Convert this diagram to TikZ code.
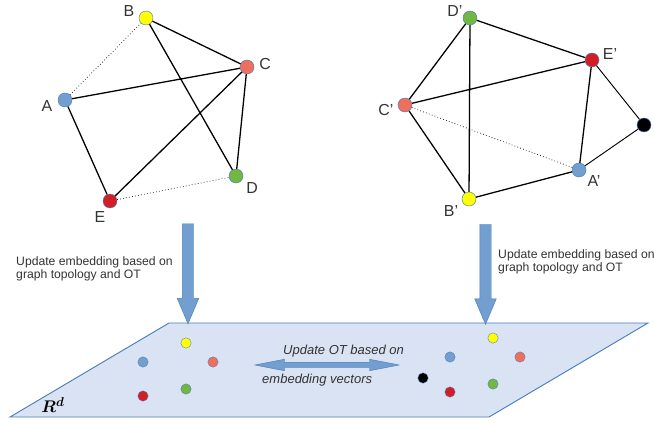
\documentclass[tikz,border=0pt]{standalone}
\usepackage{fontspec}
\setmainfont{Liberation Sans}
\usepackage{amsmath}
\usetikzlibrary{shapes.arrows}

\definecolor{rimblue}{RGB}{74,126,187}
\definecolor{nodeblue}{RGB}{114,159,207}
\definecolor{nodeyellow}{RGB}{255,255,0}
\definecolor{nodesalmon}{RGB}{238,111,92}
\definecolor{nodegreen}{RGB}{114,182,67}
\definecolor{nodered}{RGB}{210,31,38}
\definecolor{planefill}{RGB}{218,227,243}
\definecolor{captext}{RGB}{51,51,51}

\tikzset{
  vtx/.style={circle, draw=rimblue, line width=0.4pt, minimum size=4.2mm, inner sep=0pt},
  emb/.style={circle, draw=rimblue, line width=0.3pt, minimum size=3.1mm, inner sep=0pt},
  lbl/.style={font=\fontsize{13.6}{16}\selectfont, text=captext, inner sep=0pt},
  edge/.style={line width=1.1pt},
  weak/.style={line width=0.6pt, dotted},
  bigarrow/.style={single arrow, fill=nodeblue, draw=rimblue, line width=0.4pt,
    minimum height=30mm, inner sep=1.65mm, single arrow head extend=1.5mm,
    single arrow tip angle=46},
  caption/.style={font=\fontsize{10.4}{11.5}\selectfont, text=captext, align=left, inner sep=0pt},
  otnote/.style={font=\fontsize{11.1}{13}\selectfont\itshape, text=captext, inner sep=0pt}
}

\begin{document}
\begin{tikzpicture}[x=0.3mm, y=-0.3mm]
  \useasboundingbox (0,0) rectangle (654,424);

  % embedding plane
  \filldraw[fill=planefill, draw=rimblue, line width=0.8pt]
    (10,417) -- (169,323) -- (648,323) -- (489,417) -- cycle;
  \node (rd) at (53,405) {\fontsize{15}{17}\selectfont$\boldsymbol{R}^{\boldsymbol{d}}$};

  % first graph
  \node[vtx, fill=nodeblue] (a) at (65,100) {};
  \node[vtx, fill=nodeyellow] (b) at (146,18) {};
  \node[vtx, fill=nodesalmon] (c) at (247,67) {};
  \node[vtx, fill=nodegreen] (d) at (236,176) {};
  \node[vtx, fill=nodered] (e) at (110,201) {};
  \node[lbl] (la) at (47,106) {A};
  \node[lbl] (lb) at (129,11) {B};
  \node[lbl] (lc) at (265,64) {C};
  \node[lbl] (ld) at (252,188) {D};
  \node[lbl] (le) at (100,217) {E};

  \draw[weak] (a) -- (b);
  \draw[edge] (b) -- (c) (b) -- (d) (a) -- (c) (a) -- (e) (e) -- (c) (c) -- (d);
  \draw[weak] (e) -- (d);

  % second graph
  \node[vtx, fill=nodeblue] (a2) at (579,170) {};
  \node[vtx, fill=nodeyellow] (b2) at (469,199) {};
  \node[vtx, fill=nodesalmon] (c2) at (405,105) {};
  \node[vtx, fill=nodegreen] (d2) at (470,18) {};
  \node[vtx, fill=nodered] (e2) at (592,60) {};
  \node[vtx, fill=black] (f2) at (644,125) {};
  \node[lbl] (la2) at (594,181) {A'};
  \node[lbl] (lb2) at (451,211) {B'};
  \node[lbl] (lc2) at (386,110) {C'};
  \node[lbl] (ld2) at (455,11) {D'};
  \node[lbl] (le2) at (610,54) {E'};

  \draw[edge] (d2) -- (e2) (d2) -- (c2) (d2) -- (b2) (c2) -- (e2) (c2) -- (b2)
    (b2) -- (a2) (a2) -- (e2);
  \draw[edge, line width=0.8pt] (e2) -- (f2) (f2) -- (a2);
  \draw[weak] (c2) -- (a2);

  % update arrows
  \node[bigarrow, rotate=-90] (arrl) at (188,267) {};
  \node[bigarrow, rotate=-90] (arrr) at (485.5,267.5) {};
  \node[caption, anchor=north west] (capl) at (16,256) {Update embedding based on\\graph topology and OT};
  \node[caption, anchor=north west] (capr) at (498,249) {Update embedding based on\\graph topology and OT};

  % embedded points
  \node[emb, fill=nodeyellow] (p1) at (186,343) {};
  \node[emb, fill=nodeblue] (p2) at (143,362) {};
  \node[emb, fill=nodesalmon] (p3) at (213,362) {};
  \node[emb, fill=nodered] (p4) at (143,396) {};
  \node[emb, fill=nodegreen] (p5) at (186,389) {};

  \node[emb, fill=nodeyellow] (q1) at (493,338) {};
  \node[emb, fill=nodeblue] (q2) at (450,357) {};
  \node[emb, fill=nodesalmon] (q3) at (520,357) {};
  \node[emb, fill=black] (q4) at (423,378) {};
  \node[emb, fill=nodered] (q5) at (450,392) {};
  \node[emb, fill=nodegreen] (q6) at (493,384) {};

  % OT update
  \node[double arrow, fill=nodeblue, draw=rimblue, line width=0.4pt,
    minimum height=43.2mm, inner sep=0.75mm, double arrow head extend=0.9mm,
    double arrow tip angle=22] (ot) at (327,365) {};
  \node[otnote, anchor=base west] (otl1) at (283,354) {Update OT based on};
  \node[otnote, anchor=base west] (otl2) at (262,383) {embedding vectors};
\end{tikzpicture}
\end{document}
